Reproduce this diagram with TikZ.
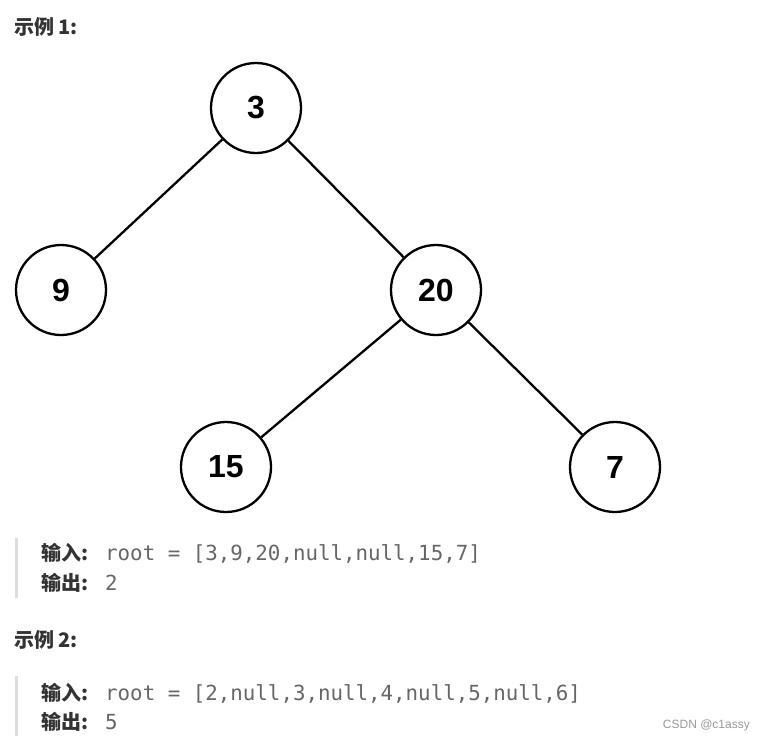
\documentclass[tikz,border=0pt]{standalone}
\usepackage{fontspec}
\setmainfont{Liberation Sans}
\newfontfamily\cjkfont{Noto Sans CJK SC}
\newfontfamily\monofont{DejaVu Sans Mono}
\newfontfamily\digitfont{Liberation Sans}
\definecolor{headc}{HTML}{333333}
\definecolor{codec}{HTML}{666666}
\definecolor{barc}{HTML}{DDDDDD}
\definecolor{markc}{HTML}{999999}
\tikzset{
  treenode/.style={circle, draw=black, line width=2.3pt, minimum size=90pt, inner sep=0pt,
    font=\digitfont\bfseries\fontsize{32}{36}\selectfont},
  edge/.style={line width=2.3pt, black},
  heading/.style={anchor=base west, inner sep=0pt, text=headc, font=\cjkfont\bfseries\fontsize{20}{24}\selectfont},
  label/.style={anchor=base west, inner sep=0pt, text=headc, font=\cjkfont\bfseries\fontsize{20}{24}\selectfont},
  codetext/.style={anchor=base west, inner sep=0pt, text=codec, font=\monofont\mdseries\fontsize{20.8}{24}\selectfont},
  quotebar/.style={line width=3pt, barc},
}
\begin{document}
\begin{tikzpicture}[x=1pt, y=-1pt]
\useasboundingbox[fill=white] (0,0) rectangle (761,740);
% heading 1
\node[heading] (h1) at (14,34) {示例 1:};
% tree
\node[treenode] (n3) at (256,108) {3};
\node[treenode] (n9) at (61,290) {9};
\node[treenode] (n20) at (436,290) {20};
\node[treenode] (n15) at (226,467) {15};
\node[treenode] (n7) at (615,467) {7};
\draw[edge] (n3) -- (n9);
\draw[edge] (n3) -- (n20);
\draw[edge] (n20) -- (n15);
\draw[edge] (n20) -- (n7);
% example 1 block
\coordinate (b1top) at (16,538);
\coordinate (b1bot) at (16,598);
\draw[quotebar] (b1top) -- (b1bot);
\node[label] (in1) at (41,560) {输入:};
\node[codetext] (in1c) at (105,560) {root = [3,9,20,null,null,15,7]};
\node[label] (out1) at (41,590) {输出:};
\node[codetext] (out1c) at (105,590) {2};
% heading 2
\node[heading] (h2) at (14,647) {示例 2:};
\coordinate (b2top) at (16,676);
\coordinate (b2bot) at (16,736);
\draw[quotebar] (b2top) -- (b2bot);
\node[label] (in2) at (41,700) {输入:};
\node[codetext] (in2c) at (105,700) {root = [2,null,3,null,4,null,5,null,6]};
\node[label] (out2) at (41,729) {输出:};
\node[codetext] (out2c) at (105,729) {5};
% watermark
\node[anchor=base east, inner sep=0pt, text=markc, font=\fontsize{12}{14}\selectfont] (wm) at (750,728) {CSDN @c1assy};
\end{tikzpicture}
\end{document}
